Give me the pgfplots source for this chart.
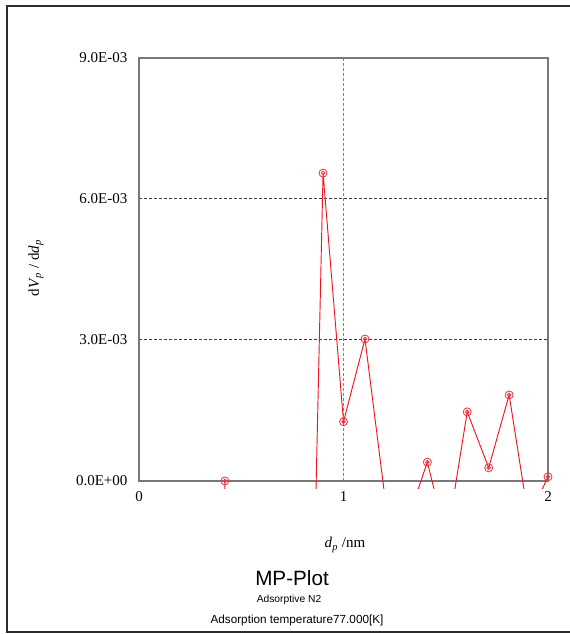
\documentclass[border=0pt]{standalone}
\usepackage{fontspec}
\setmainfont{Liberation Serif}
\newfontfamily\tahoma{Liberation Sans}
\usepackage{pgfplots}
\pgfplotsset{compat=1.18}
\pgfdeclareplotmark{dcirc}{%
  \pgfpathcircle{\pgfpointorigin}{\pgfplotmarksize}\pgfusepathqstroke
  \pgfpathcircle{\pgfpointorigin}{0.45\pgfplotmarksize}\pgfusepathqstroke}
\definecolor{framec}{RGB}{45,45,45}
\definecolor{boxc}{RGB}{120,120,120}
\definecolor{gridc}{RGB}{60,60,60}
\definecolor{vgridc}{RGB}{130,130,130}
\definecolor{plotred}{RGB}{240,20,30}
\definecolor{markred}{RGB}{235,60,70}
\begin{document}
\begin{tikzpicture}[x=0.75pt,y=0.75pt]
\useasboundingbox (0,0) rectangle (569,634);
\draw[line width=1.5pt, framec] (580,628) -- (6.5,628) -- (6.5,2) -- (580,2);
\begin{axis}[
  at={(104.25pt,108.75pt)}, anchor=south west,
  width=306.75pt, height=323.25pt, scale only axis,
  xmin=0, xmax=2, ymin=-0.000170213, ymax=0.009,
  axis line style={draw=none},
  major tick length=0pt,
  xtick={0,1,2}, xticklabels={0,1,2},
  ytick={0,0.003,0.006,0.009},
  yticklabels={0.0E+00,3.0E-03,6.0E-03,9.0E-03},
  scaled y ticks=false,
  clip mode=individual,
  ticklabel style={font=\fontsize{11.25}{13}\selectfont},
  yticklabel style={anchor=east, inner sep=0pt, xshift=-8.5pt},
  xticklabel style={anchor=center, inner sep=0pt, yshift=-6pt},
]
\draw[gridc, line width=0.75pt, dash pattern=on 2.25pt off 1.5pt] (axis cs:0,0.003) -- (axis cs:2,0.003);
\draw[gridc, line width=0.75pt, dash pattern=on 2.25pt off 1.5pt] (axis cs:0,0.006) -- (axis cs:2,0.006);
\draw[vgridc, line width=1.1pt, dash pattern=on 2.25pt off 1.5pt] (axis cs:1,0) -- (axis cs:1,0.009);
\draw[boxc, line width=1.2pt] (axis cs:0,0) rectangle (axis cs:2,0.009);
\addplot[plotred, line width=0.7pt, no markers] coordinates {
  (0.42,0) (0.5,-0.05) (0.6,-0.04) (0.7,-0.03) (0.8,-0.013)
  (0.9,0.00655) (1.0,0.00126) (1.105,0.00302) (1.205,-0.00043) (1.305,-0.00094)
  (1.41,0.00040) (1.505,-0.00125) (1.605,0.00147) (1.71,0.00028) (1.81,0.00183)
  (1.905,-0.0008) (2.0,0.00009)
};
\addplot[markred, only marks, mark=dcirc, mark size=3pt, line width=0.65pt] coordinates {
  (0.42,0) (0.9,0.00655) (1.0,0.00126) (1.105,0.00302) (1.41,0.00040)
  (1.605,0.00147) (1.71,0.00028) (1.81,0.00183) (2.0,0.00009)
};
\end{axis}
\node[rotate=90, font=\fontsize{11.25}{13}\selectfont] at (36,366) {d\textit{V}\textsubscript{\textit{p}} / d\textit{d}\textsubscript{\textit{p}}};
\node[anchor=base, font=\fontsize{11.25}{13}\selectfont] at (345,86) {\textit{d}\textsubscript{\textit{p}} /nm};
\node[anchor=base, font=\tahoma\fontsize{15.5}{18}\selectfont] at (292,48) {MP-Plot};
\node[anchor=base, font=\tahoma\fontsize{7.7}{9}\selectfont] at (289,31) {Adsorptive N2};
\node[anchor=base, font=\tahoma\fontsize{8.8}{10}\selectfont] at (297,10) {Adsorption temperature77.000[K]};
\end{tikzpicture}
\end{document}
